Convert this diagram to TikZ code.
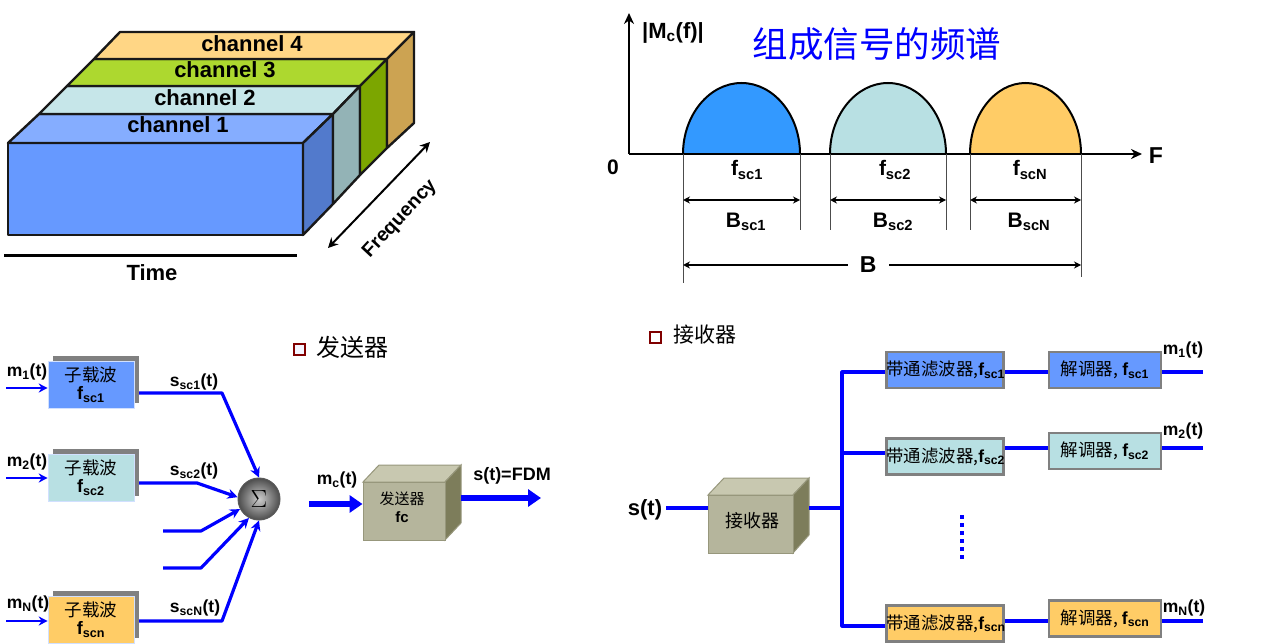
\documentclass[tikz,border=0pt]{standalone}
\usepackage{fontspec}
\setmainfont{Liberation Sans}
\newfontfamily\cjk{Noto Sans CJK SC}
\usepackage{xcolor}
\usepackage{tikz}
\usetikzlibrary{arrows.meta, positioning, calc, shadows}
\definecolor{subblue}{HTML}{6699FF}
\definecolor{subcyan}{HTML}{B8E0E3}
\definecolor{subgold}{HTML}{FFCC66}
\definecolor{specblue}{HTML}{3399FF}
\definecolor{boxfront}{HTML}{B5B59C}
\definecolor{boxtop}{HTML}{C8C8B0}
\definecolor{boxside}{HTML}{7D7D5B}
\newcommand{\fs}[1]{\fontsize{#1}{#1}\selectfont}
\newcommand{\fsub}[1]{{\rmfamily\bfseries f\textsubscript{#1}}}
\tikzset{
  face/.style={draw=black!90, line width=2.4pt, line join=round},
  chlabel/.style={font=\bfseries\fs{22}, text=black, inner sep=0pt},
  speclabel/.style={font=\bfseries\fs{21}, inner sep=0pt},
  siglabel/.style={font=\bfseries\fs{17.5}, inner sep=0pt},
  thinline/.style={draw=black!70, line width=1pt},
  dimline/.style={draw=black, line width=1.2pt, {Stealth[length=7pt,width=7pt]}-{Stealth[length=7pt,width=7pt]}},
  bluewire/.style={draw=blue, line width=3.2pt, line join=round},
  bluearrow/.style={bluewire, -{Stealth[length=10pt,width=10pt]}},
  inarrow/.style={draw=blue, line width=2.4pt, -{Stealth[length=9pt,width=9pt]}},
  fatarrow/.style={draw=blue, line width=5.5pt, -{Triangle[length=13pt,width=17pt]}},
  subcarrier/.style={minimum width=86pt, minimum height=47pt, inner sep=0pt, align=center,
    draw=white!70!subblue, line width=0.6pt,
    copy shadow={shadow xshift=5pt, shadow yshift=5pt, fill=gray, draw=none}},
  stagebox/.style={draw=gray, line width=2.8pt, minimum height=36pt, inner sep=0pt},
  cubefront/.style={fill=boxfront, draw=boxside!80, line width=1pt, inner sep=0pt, align=center},
  bullet/.style={draw=black!50!red, fill=blue!4, line width=2pt, minimum size=11pt, inner sep=0pt}
}

\begin{document}
\begin{tikzpicture}[x=1pt, y=-1pt]
    \useasboundingbox (0,0) rectangle (1271,644);

    % TOP LEFT: time / frequency block
    \fill[face, fill=subblue] (8,143) rectangle (303,235);
    \fill[face, fill=subblue!80!white] (8,143) -- (39,114) -- (333,114) -- (303,143) -- cycle;
    \fill[face, fill=subcyan!80!white] (39,114) -- (67,86) -- (360,86) -- (333,114) -- cycle;
    \fill[face, fill={rgb,255:red,173;green,216;blue,47}] (67,86) -- (94,59) -- (387,59) -- (360,86) -- cycle;
    \fill[face, fill=subgold!80!white] (94,59) -- (120,32) -- (414,32) -- (387,59) -- cycle;
    \fill[face, fill=subblue!80!black] (303,143) -- (333,114) -- (333,204) -- (303,235) -- cycle;
    \fill[face, fill=subcyan!80!black] (333,114) -- (360,86) -- (360,175) -- (333,204) -- cycle;
    \fill[face, fill={rgb,255:red,124;green,166;blue,0}] (360,86) -- (387,59) -- (387,148) -- (360,175) -- cycle;
    \fill[face, fill=subgold!80!black] (387,59) -- (414,32) -- (414,123) -- (387,148) -- cycle;
    \node[chlabel] (ch1) at (178,125) {channel 1};
    \node[chlabel] (ch2) at (205,98) {channel 2};
    \node[chlabel] (ch3) at (225,70) {channel 3};
    \node[chlabel] (ch4) at (252,44) {channel 4};
    \draw[black, line width=3pt] (4,256) -- (297,256);
    \node[chlabel] (time) at (152,273) {Time};
    \coordinate (freqa) at (328,248);
    \coordinate (freqb) at (430,142);
    \draw[black, line width=2pt, {Stealth[length=10pt,width=10pt]}-{Stealth[length=10pt,width=10pt]}] (freqa) -- (freqb);
    \node[inner sep=0pt, rotate=47, font=\bfseries\fs{19.5}] (freq) at (400,219) {Frequency};

    % TOP RIGHT: spectrum
    \node[speclabel, font=\bfseries\fs{22}] (magn) at (673,33) {|M\textsubscript{c}(f)|};
    \node[inner sep=0pt, text=blue, font=\cjk\fs{35.5}] (title) at (877,44) {组成信号的频谱};
    \coordinate (orig) at (629,154);
    \foreach \xa/\xb/\col in {683/800/specblue, 830/946/subcyan, 970/1081/subgold} {
        \fill[draw=black, line width=2pt, fill=\col] (\xa,154)
            .. controls (\xa,115) and ({(\xa+\xb)/2-0.275*(\xb-\xa)},83) .. ({(\xa+\xb)/2},83)
            .. controls ({(\xa+\xb)/2+0.275*(\xb-\xa)},83) and (\xb,115) .. (\xb,154);
    }
    \draw[black, line width=2.2pt, -{Stealth[length=11pt,width=10pt]}] (orig) -- (629,13);
    \draw[black, line width=2.2pt, -{Stealth[length=11pt,width=10pt]}] (orig) -- (1142,154);
    \node[speclabel, font=\bfseries\fs{23}] (axisF) at (1156,156) {F};
    \node[speclabel] (zero) at (613,167) {0};
    \draw[thinline] (683,154) -- (683,283);
    \draw[thinline] (1081,154) -- (1081,277);
    \foreach \xa in {800,830,946,970} {
        \draw[thinline] (\xa,154) -- (\xa,230);
    }
    \node[speclabel] (fa) at (747,170) {f\textsubscript{sc1}};
    \node[speclabel] (fb) at (895,170) {f\textsubscript{sc2}};
    \node[speclabel] (fc) at (1030,170) {f\textsubscript{scN}};
    \draw[dimline] (683,200) -- (800,200);
    \draw[dimline] (830,200) -- (946,200);
    \draw[dimline] (970,200) -- (1081,200);
    \node[speclabel] (ba) at (746,222) {B\textsubscript{sc1}};
    \node[speclabel] (bb) at (893,222) {B\textsubscript{sc2}};
    \node[speclabel] (bc) at (1029,222) {B\textsubscript{scN}};
    \draw[dimline] (683,265) -- node[pos=0.465, fill=white, minimum width=41pt, inner sep=0pt, font=\bfseries\fs{23}] (btotal) {B} (1081,265);

    % BOTTOM LEFT: transmitter
    \node[bullet] (txbullet) at (299.5,349) {};
    \node[inner sep=0pt, font=\cjk\fs{24}] (txtitle) at (352,347) {发送器};
    \foreach \nm/\ypos/\col/\sub in {suba/384.5/subblue/sc1, subb/477.5/subcyan/sc2, subc/619.5/subgold/scn} {
        \node[subcarrier, fill=\col] (\nm) at (91,\ypos) {{\cjk\fs{17.5}子载波}\\[3pt]{\fs{18}\fsub{\sub}}};
    }
    \coordinate (ina) at (6,388);
    \coordinate (inb) at (6,478);
    \coordinate (inc) at (6,621);
    \foreach \c/\b in {ina/suba, inb/subb, inc/subc} {
        \draw[inarrow] (\c) -- (\c -| \b.west);
    }
    \node[siglabel] (ma) at (27,372) {m\textsubscript{1}(t)};
    \node[siglabel] (mb) at (27,462) {m\textsubscript{2}(t)};
    \node[siglabel] (mc) at (28,604) {m\textsubscript{N}(t)};
    \node[circle, minimum size=42pt, inner sep=0pt, draw=black!65, line width=1pt,
          inner color=black!20, outer color=black!70, font=\fs{28}] (sum) at (259,499) {$\Sigma$};
    \coordinate (outa) at (139,393);
    \coordinate (outb) at (139,483);
    \coordinate (outc) at (139,621);
    \coordinate (freea) at (163,531);
    \coordinate (freeb) at (163,568);
    \draw[bluearrow] (outa) -- (222,393) -- (sum.90);
    \draw[bluearrow] (outb) -- (197,483) -- (sum.175);
    \draw[bluearrow] (freea) -- (201,531) -- (sum.208);
    \draw[bluearrow] (freeb) -- (201,568) -- (sum.242);
    \draw[bluearrow] (outc) -- (222,621) -- (sum.270);
    \node[siglabel] (sa) at (194,382) {s\textsubscript{sc1}(t)};
    \node[siglabel] (sb) at (194,471) {s\textsubscript{sc2}(t)};
    \node[siglabel] (sc) at (195,608) {s\textsubscript{scN}(t)};

    % transmitter cube
    \fill[draw=boxside!80, line width=1pt, fill=boxtop] (363,482) -- (379,465) -- (461,465) -- (445,482) -- cycle;
    \fill[draw=boxside!80, line width=1pt, fill=boxside] (445,482) -- (461,465) -- (461,523) -- (445,540) -- cycle;
    \node[cubefront, minimum width=82pt, minimum height=58pt] (txbox) at (404,511) {};
    \node[inner sep=0pt, font=\cjk\fs{15}] (txboxa) at (402,499) {发送器};
    \node[inner sep=0pt, font=\bfseries\fs{15}] (txboxb) at (402,517) {fc};
    \coordinate (mcin) at (309,504);
    \draw[fatarrow] (mcin) -- (mcin -| txbox.west);
    \coordinate (txout) at (461,498);
    \coordinate (txend) at (541,498);
    \draw[fatarrow] (txout) -- (txend);
    \node[siglabel] (mcl) at (337,480) {m\textsubscript{c}(t)};
    \node[siglabel, font=\bfseries\fs{18}] (sfdm) at (512,476) {s(t)=FDM};

    % BOTTOM RIGHT: receiver
    \node[bullet, fill=white] (rxbullet) at (655.5,337) {};
    \node[inner sep=0pt, font=\cjk\fs{21}] (rxtitle) at (705,335) {接收器};
    \node[inner sep=0pt, font=\bfseries\fs{22}] (sin) at (645,510) {s(t)};
    \fill[draw=boxside!80, line width=1pt, fill=boxtop] (708,495) -- (724,478) -- (809,478) -- (793,495) -- cycle;
    \fill[draw=boxside!80, line width=1pt, fill=boxside] (793,495) -- (809,478) -- (809,535) -- (793,553) -- cycle;
    \node[cubefront, minimum width=85pt, minimum height=58pt] (rxbox) at (750.5,524) {};
    \node[inner sep=0pt, font=\cjk\fs{18}] (rxboxa) at (752,521) {接收器};
    \coordinate (rxin) at (666,508);
    \coordinate (rxout) at (809,508);
    \coordinate (trunk) at (842,508);
    \draw[bluewire] (rxin) -- (rxin -| rxbox.west);
    \draw[bluewire] (rxout) -- (trunk);

    % filter and demodulator stages
    \foreach \nm/\fy/\dy/\col/\sub in {a/370/370/subblue/sc1, b/456.5/451/subcyan/sc2, c/623.5/618.5/subgold/scn} {
        \node[stagebox, fill=\col, minimum width=117pt, minimum height=36pt, text width=117pt, align=center] (filt\nm) at (945,\fy) {\cjk\fs{17.4}带通滤波器,\fsub{\sub}};
        \node[stagebox, fill=\col, minimum width=112pt] (demod\nm) at (1105,\dy) {\cjk\fs{17.5}解调器, \fsub{\sub}};
    }
    \draw[bluewire] (filta.west |- 0,372) -| (842,626) -- (filtc.west |- 0,626);
    \draw[bluewire] (842,453) -- (filtb.west |- 0,453);
    \foreach \nm/\wy in {a/372, b/448, c/621} {
        \draw[bluewire] (filt\nm.east |- 0,\wy) -- (demod\nm.west |- 0,\wy);
        \coordinate (end\nm) at (1203,\wy);
        \draw[bluewire] (demod\nm.east |- 0,\wy) -- (end\nm);
    }
    \foreach \y in {515,523,...,555} {
        \fill[blue] (960,\y) rectangle (964,\y+4);
    }
    \node[siglabel] (ra) at (1183,350) {m\textsubscript{1}(t)};
    \node[siglabel] (rb) at (1183,431) {m\textsubscript{2}(t)};
    \node[siglabel] (rc) at (1184,608) {m\textsubscript{N}(t)};
\end{tikzpicture}
\end{document}
